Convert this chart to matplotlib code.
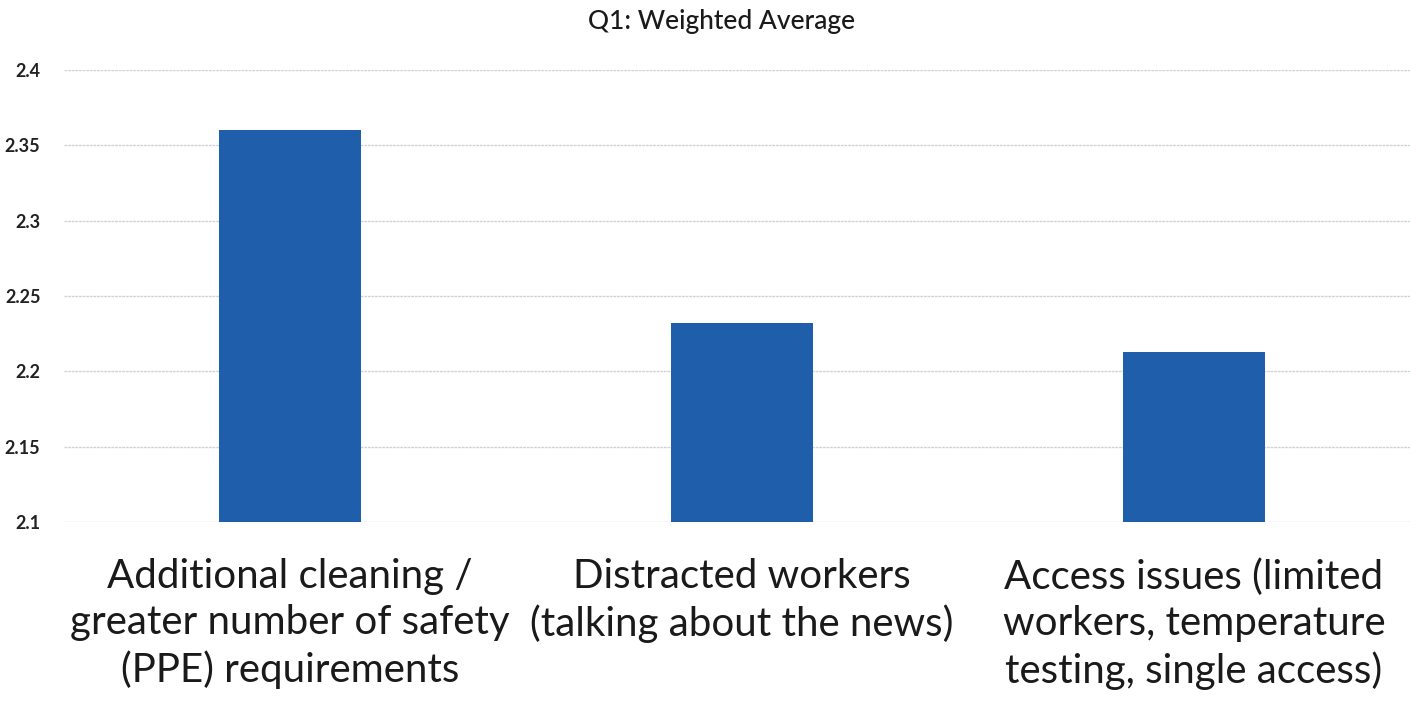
import matplotlib.pyplot as plt

CATEGORIES = [
    'Additional cleaning /\ngreater number of safety\n(PPE) requirements',
    'Distracted workers\n(talking about the news)',
    'Access issues (limited\nworkers, temperature\ntesting, single access)',
]
VALUES = [2.36, 2.232, 2.213]
Y_TICKS = [2.1, 2.15, 2.2, 2.25, 2.3, 2.35, 2.4]
Y_TICK_LABELS = ['2.1', '2.15', '2.2', '2.25', '2.3', '2.35', '2.4']

BAR_COLOR = '#1f5eab'
GRID_COLOR = '#cfd3d8'

plt.rcParams['font.family'] = ['Lato', 'DejaVu Sans']

fig = plt.figure(figsize=(14.10, 7.03), dpi=100)
ax = fig.add_axes([64 / 1410, 1 - 522 / 703, 1 - 64 / 1410, (522 - 70) / 703])

x = list(range(len(CATEGORIES)))
ax.bar(x, VALUES, width=0.316, color=BAR_COLOR, zorder=2)

ax.set_ylim(2.1, 2.4)
ax.set_xlim(-0.5, 2.5 - 10 / 452)
ax.set_yticks(Y_TICKS)
ax.set_yticklabels(Y_TICK_LABELS, fontsize=13, fontweight='bold', color='#222222')
ax.set_xticks(x)
ax.set_xticklabels(CATEGORIES, fontsize=29, color='#1a1a1a', linespacing=1.3)
ax.tick_params(axis='both', length=0)
ax.tick_params(axis='y', pad=17)
ax.tick_params(axis='x', pad=26)

ax.grid(axis='y', color=GRID_COLOR, linewidth=1.0, linestyle=(0, (2, 0.6)), zorder=0)
for spine in ax.spines.values():
    spine.set_visible(False)

fig.text(722 / 1410, 1 - 22 / 703, 'Q1: Weighted Average', ha='center', va='center',
         fontsize=19, fontweight='medium', color='#1a1a1a')

fig.savefig('out.png', dpi=100, facecolor='white')
